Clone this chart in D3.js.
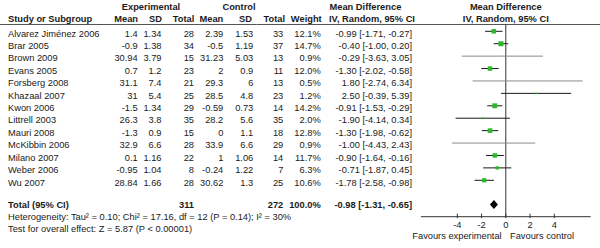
<!DOCTYPE html>
<html>
<head>
<meta charset="utf-8">
<script src="https://cdn.jsdelivr.net/npm/d3@7"></script>
<style>
  html, body { margin: 0; padding: 0; background: #fff; }
  svg { display: block; }
  text { font-family: "Liberation Sans", Arial, sans-serif; font-size: 9.3px; fill: #1a1a1a; }
  .b { font-weight: bold; }
</style>
</head>
<body>
<svg id="chart" width="600" height="248"></svg>
<script>
const studies = ["Alvarez Jiménez 2006","Brar 2005","Brown 2009","Evans 2005","Forsberg 2008","Khazaal 2007","Kwon 2006","Littrell 2003","Mauri 2008","McKibbin 2006","Milano 2007","Weber 2006","Wu 2007"];
const expMean = ["1.4","-0.9","30.94","0.7","31.1","31","-1.5","26.3","-1.3","32.9","0.1","-0.95","28.84"];
const expSD   = ["1.34","1.38","3.79","1.2","7.4","5.4","1.34","3.8","0.9","6.6","1.16","1.04","1.66"];
const expN    = [28,34,15,23,21,25,29,35,15,28,22,8,28];
const ctlMean = ["2.39","-0.5","31.23","2","29.3","28.5","-0.59","28.2","0","33.9","1","-0.24","30.62"];
const ctlSD   = ["1.53","1.19","5.03","0.9","6","4.8","0.73","5.6","1.1","6.6","1.06","1.22","1.3"];
const ctlN    = [33,37,13,11,13,23,14,35,18,29,14,7,25];
const weight  = [12.1,14.7,0.9,12.0,0.5,1.2,14.2,2.0,12.8,0.9,11.7,6.3,10.6];
const md      = [-0.99,-0.40,-0.29,-1.30,1.80,2.50,-0.91,-1.90,-1.30,-1.00,-0.90,-0.71,-1.78];
const ciLow   = [-1.71,-1.00,-3.63,-2.02,-2.74,-0.39,-1.53,-4.14,-1.98,-4.43,-1.64,-1.87,-2.58];
const ciHigh  = [-0.27,0.20,3.05,-0.58,6.34,5.39,-0.29,0.34,-0.62,2.43,-0.16,0.45,-0.98];
const total   = {expN: 311, ctlN: 272, weight: "100.0%", md: -0.98, lo: -1.31, hi: -0.65};
const tickValues = [-4,-2,0,2,4];
const axisDomain = [-7, 7];
const heterogeneity = "Heterogeneity: Tau² = 0.10; Chi² = 17.16, df = 12 (P = 0.14); I² = 30%";
const overall = "Test for overall effect: Z = 5.87 (P < 0.00001)";
const favours = ["Favours experimental", "Favours control"];

const svg = d3.select("#chart");
const f2 = v => v.toFixed(2);
const ciText = (m, l, h) => `${f2(m)} [${f2(l)}, ${f2(h)}]`;

const x = d3.scaleLinear().domain([-4, 4]).range([457.3, 554.3]);
const y = d3.scaleLinear().domain([0, studies.length - 1]).range([31.3, 180.3]);
const yTotal = 204.6, yAxis = 216.7;
const off = 5.2;

function txt(xp, yp, s, anchor, cls) {
  svg.append("text").attr("x", xp).attr("y", yp).attr("text-anchor", anchor || "start")
    .attr("class", cls || null).text(s);
}
// header
txt(151, 9.5, "Experimental", "middle", "b");
txt(239, 9.5, "Control", "middle", "b");
txt(329.5, 9.5, "Mean Difference", "start", "b");
txt(505.8, 9.5, "Mean Difference", "middle", "b");
txt(8, 22, "Study or Subgroup", "start", "b");
txt(138, 22, "Mean", "end", "b");
txt(162, 22, "SD", "end", "b");
txt(194.3, 22, "Total", "end", "b");
txt(223.3, 22, "Mean", "end", "b");
txt(252, 22, "SD", "end", "b");
txt(285, 22, "Total", "end", "b");
txt(321.7, 22, "Weight", "end", "b");
txt(329, 22, "IV, Random, 95% CI", "start", "b");
txt(505.8, 22, "IV, Random, 95% CI", "middle", "b");

svg.append("line").attr("x1", 0).attr("x2", 600).attr("y1", 24.5).attr("y2", 24.5)
  .attr("stroke", "#555").attr("stroke-width", 1);

// rows
const rows = svg.append("g");
studies.forEach((s, i) => {
  const yy = y(i) + off;
  rows.append("text").attr("x", 8).attr("y", yy).text(s);
  rows.append("text").attr("x", 137.7).attr("y", yy).attr("text-anchor", "end").text(expMean[i]);
  rows.append("text").attr("x", 161.5).attr("y", yy).attr("text-anchor", "end").text(expSD[i]);
  rows.append("text").attr("x", 194).attr("y", yy).attr("text-anchor", "end").text(expN[i]);
  rows.append("text").attr("x", 223.3).attr("y", yy).attr("text-anchor", "end").text(ctlMean[i]);
  rows.append("text").attr("x", 253.3).attr("y", yy).attr("text-anchor", "end").text(ctlSD[i]);
  rows.append("text").attr("x", 283.3).attr("y", yy).attr("text-anchor", "end").text(ctlN[i]);
  rows.append("text").attr("x", 320.7).attr("y", yy).attr("text-anchor", "end").text(weight[i].toFixed(1) + "%");
  rows.append("text").attr("x", 412).attr("y", yy).attr("text-anchor", "end").text(ciText(md[i], ciLow[i], ciHigh[i]));
});

// total row
const yt = yTotal + 3.4;
txt(8, yt, "Total (95% CI)", "start", "b");
txt(194, yt, total.expN, "end", "b");
txt(283.3, yt, total.ctlN, "end", "b");
txt(320.7, yt, total.weight, "end", "b");
txt(412, yt, ciText(total.md, total.lo, total.hi), "end", "b");
txt(8, 219.9, heterogeneity);
txt(8, 231.5, overall);

// zero line
svg.append("line").attr("x1", x(0)).attr("x2", x(0)).attr("y1", 24.5).attr("y2", yAxis)
  .attr("stroke", "#333").attr("stroke-width", 1);

// CI lines
const plot = svg.append("g");
plot.selectAll("line.ci").data(studies).join("line").attr("class", "ci")
  .attr("x1", (d, i) => x(ciLow[i])).attr("x2", (d, i) => x(ciHigh[i]))
  .attr("y1", (d, i) => y(i)).attr("y2", (d, i) => y(i))
  .attr("stroke", (d, i) => weight[i] < 1 ? "#8a8a8a" : "#1a1a1a").attr("stroke-width", 1);

// squares
const side = w => Math.max(1.6, 1.3 * Math.sqrt(w));
plot.selectAll("rect.sq").data(studies).join("rect").attr("class", "sq")
  .attr("x", (d, i) => x(md[i]) - side(weight[i]) / 2)
  .attr("y", (d, i) => y(i) - side(weight[i]) / 2)
  .attr("width", (d, i) => side(weight[i]))
  .attr("height", (d, i) => side(weight[i]))
  .attr("fill", (d, i) => weight[i] < 1 ? "#8fdc8f" : "#2cb82c");

// diamond
const dh = 4.5;
plot.append("path")
  .attr("d", `M${x(total.lo)},${yTotal} L${x(total.md)},${yTotal - dh} L${x(total.hi)},${yTotal} L${x(total.md)},${yTotal + dh} Z`)
  .attr("fill", "#000");

// axis
const axisG = svg.append("g");
axisG.append("line").attr("x1", x(axisDomain[0])).attr("x2", x(axisDomain[1]))
  .attr("y1", yAxis).attr("y2", yAxis).attr("stroke", "#333").attr("stroke-width", 1);
axisG.selectAll("line.tick").data(tickValues).join("line").attr("class", "tick")
  .attr("x1", d => x(d)).attr("x2", d => x(d)).attr("y1", yAxis - 3).attr("y2", yAxis + 1.5)
  .attr("stroke", "#333");
axisG.selectAll("text.tl").data(tickValues).join("text").attr("class", "tl")
  .attr("x", d => x(d)).attr("y", 227.5).attr("text-anchor", "middle").text(d => d);

txt(501.7, 239.3, favours[0], "end");
txt(510, 239.3, favours[1], "start");
</script>
</body>
</html>
